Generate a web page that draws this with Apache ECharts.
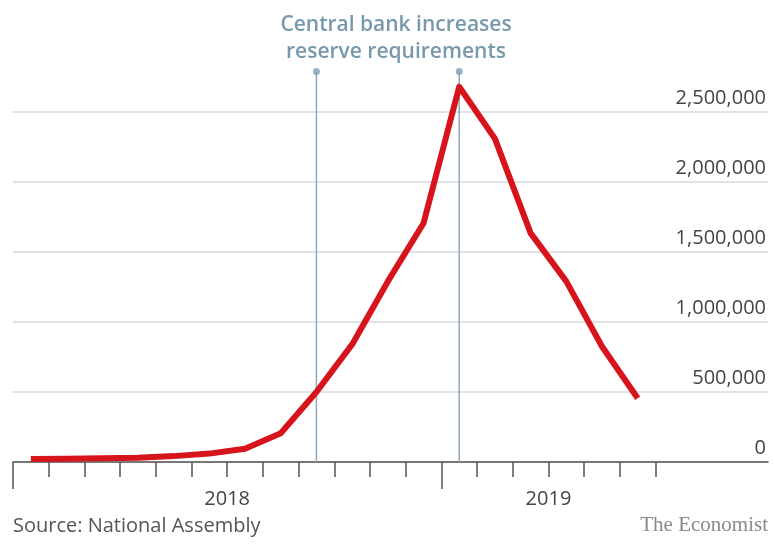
<!DOCTYPE html>
<html>
<head>
<meta charset="utf-8">
<script src="https://cdn.jsdelivr.net/npm/echarts@6/dist/echarts.min.js"></script>
<style>
  html, body { margin: 0; padding: 0; background: #fff; }
  #chart { width: 774px; height: 548px; }
</style>
</head>
<body>
<div id="chart"></div>
<script>
// Months, Jan 2018 .. Jun 2019
var months = ['2018-01','2018-02','2018-03','2018-04','2018-05','2018-06','2018-07','2018-08','2018-09','2018-10','2018-11','2018-12',
              '2019-01','2019-02','2019-03','2019-04','2019-05','2019-06'];
var values = [22000, 23000, 26000, 31000, 42000, 60000, 95000, 205000, 500000, 840000, 1290000, 1705000,
              2680000, 2310000, 1635000, 1290000, 825000, 455000];
var yTicks = [0, 500000, 1000000, 1500000, 2000000, 2500000];
var yearLabels = ['2018', '2019'];
var annotation = ['Central bank increases', 'reserve requirements'];
var eventMonths = ['2018-09', '2019-01'];
var sourceText = 'Source: National Assembly';
var brandText = 'The Economist';

var FONT = '"Open Sans", "Noto Sans", sans-serif';
var monthTicks = [];
for (var i = 0; i <= months.length; i++) monthTicks.push(i);
var yearTicks = [0, 12];
var yearLabelPos = [6, 15];

var seriesData = values.map(function (v, i) { return [i + 0.5, v]; });
var eventX = eventMonths.map(function (m) { return months.indexOf(m) + 0.5; });
var markTop = 2790000;

var eventSeries = [];
eventX.forEach(function (x) {
  eventSeries.push({
    type: 'line', data: [[x, 0], [x, markTop]], clip: false, showSymbol: false, symbol: 'none',
    silent: true, lineStyle: { color: '#8eaabb', width: 1.5 }, z: 3
  });
});
eventSeries.push({
  type: 'scatter', data: eventX.map(function (x) { return [x, markTop]; }), clip: false,
  symbol: 'circle', symbolSize: 7, silent: true, itemStyle: { color: '#7f9db2' }, z: 3
});

var chart = echarts.init(document.getElementById('chart'), null, { renderer: 'canvas' });
var xMax = 21.15;
chart.setOption({
  animation: false,
  backgroundColor: '#ffffff',
  title: {
    text: annotation.join('\n'),
    left: 391, top: 7, textAlign: 'center',
    textStyle: { fontFamily: FONT, fontSize: 21, fontWeight: 600, color: '#7898ac', lineHeight: 27 }
  },
  graphic: [
    { type: 'text', left: 13, top: 516, style: { text: sourceText, font: '20px ' + FONT, fill: '#555555' } },
    { type: 'text', right: 6, top: 515, style: { text: brandText, font: '21px "Liberation Serif", "DejaVu Serif", serif', fill: '#8a8a8a' } }
  ],
  grid: { left: 13, right: 6, top: 112, bottom: 86 },
  xAxis: [
    {
      type: 'value', min: 0, max: xMax,
      axisLine: { show: true, onZero: false, lineStyle: { color: '#555555', width: 1.5 } },
      axisTick: { show: true, customValues: monthTicks, length: 15, lineStyle: { color: '#555555', width: 1.5 } },
      axisLabel: { show: true, customValues: yearLabelPos, margin: 27,
        formatter: function (v) { return v === 6 ? yearLabels[0] : (v === 15 ? yearLabels[1] : ''); },
        fontFamily: FONT, fontSize: 20, color: '#444444' },
      splitLine: { show: false }
    },
    {
      type: 'value', min: 0, max: xMax, position: 'bottom',
      axisLine: { show: false },
      axisTick: { show: true, customValues: yearTicks, length: 27, lineStyle: { color: '#555555', width: 1.5 } },
      axisLabel: { show: false },
      splitLine: { show: false }
    }
  ],
  yAxis: {
    type: 'value', min: 0, max: 2500000, interval: 500000, position: 'right',
    axisLine: { show: false },
    axisTick: { show: false },
    splitLine: { show: true, lineStyle: { color: '#d9d9d9', width: 1.5 } },
    axisLabel: {
      inside: true, margin: 2, verticalAlign: 'bottom', padding: [0, 0, 4, 0],
      fontFamily: FONT, fontSize: 20, color: '#444444',
      formatter: function (v) { return yTicks.indexOf(v) >= 0 ? v.toLocaleString('en-US') : ''; }
    }
  },
  series: eventSeries.concat([{
    type: 'line',
    data: seriesData,
    clip: false,
    showSymbol: false,
    symbol: 'none',
    lineStyle: { color: '#d7141c', width: 6, join: 'round' },
    z: 5
  }])
});
</script>
</body>
</html>
